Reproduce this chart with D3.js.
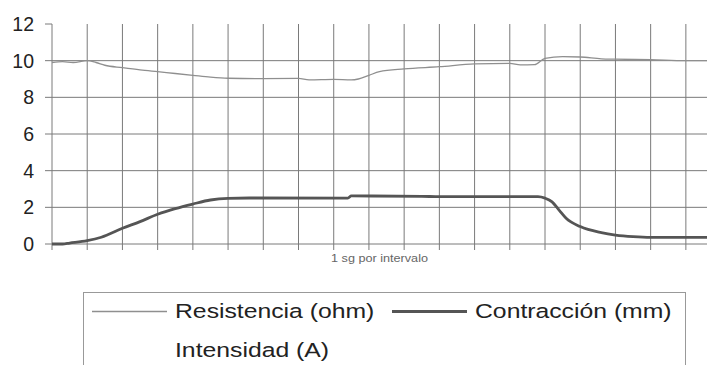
<!DOCTYPE html>
<html>
<head>
<meta charset="utf-8">
<script src="https://cdn.jsdelivr.net/npm/d3@7"></script>
<style>
  html, body { margin: 0; padding: 0; background: #fff; }
  svg { display: block; font-family: "Liberation Sans", Arial, sans-serif; }
</style>
</head>
<body>
<div id="chart"></div>
<script>
// time in seconds (one grid interval = 1 s)
const resistenciaT = [0, 0.3, 0.6, 1.0, 1.25, 1.5, 2.0, 2.5, 3.0, 3.5, 4.0, 4.5, 5.0, 6.0, 7.0, 7.3, 8.0, 8.5, 8.7, 9.0, 9.3, 10.0, 11.0, 12.0, 13.0, 13.3, 13.7, 14.0, 14.5, 15.0, 15.6, 16.0, 17.0, 18.0, 18.6]
const resistenciaV = [9.9, 9.95, 9.9, 10.0, 9.9, 9.75, 9.62, 9.5, 9.4, 9.3, 9.2, 9.1, 9.04, 9.02, 9.03, 8.95, 8.98, 8.95, 9.0, 9.2, 9.4, 9.55, 9.67, 9.82, 9.85, 9.77, 9.78, 10.13, 10.22, 10.2, 10.1, 10.08, 10.05, 10.0, 10.0]

const contraccionT = [0, 0.3, 0.5, 1.0, 1.4, 2.0, 2.5, 3.0, 3.5, 4.0, 4.5, 5.0, 5.6, 8.4, 8.5, 10.5, 11.0, 13.8, 14.0, 14.2, 14.4, 14.6, 15.0, 15.6, 16.0, 16.5, 17.0, 18.6]
const contraccionV = [0, 0, 0.05, 0.18, 0.37, 0.86, 1.22, 1.62, 1.93, 2.18, 2.4, 2.49, 2.51, 2.5, 2.62, 2.6, 2.58, 2.58, 2.5, 2.3, 1.85, 1.4, 0.95, 0.62, 0.49, 0.4, 0.36, 0.36]

const yTicks = [0, 2, 4, 6, 8, 10, 12]
const xTicks = d3.range(0, 19)
const xLabel = "1 sg por intervalo"
const legendNames = ["Resistencia (ohm)", "Contracción (mm)", "Intensidad (A)"]

const width = 707, height = 365
const margin = { top: 24, left: 52, bottom: 121 }

const x = d3.scaleLinear().domain([0, 18.6]).range([margin.left, width])
const y = d3.scaleLinear().domain([0, 12]).range([height - margin.bottom, margin.top])

const svg = d3.select("#chart").append("svg")
  .attr("width", width)
  .attr("height", height)

const gridColor = "#7a7a7a"

// horizontal grid (no line at the top value)
svg.append("g").selectAll("line")
  .data(yTicks.filter(d => d < 12))
  .enter().append("line")
  .attr("x1", margin.left - 7).attr("x2", width)
  .attr("y1", d => y(d)).attr("y2", d => y(d))
  .attr("stroke", gridColor).attr("stroke-width", 1)

// tick at 12
svg.append("line")
  .attr("x1", margin.left - 7).attr("x2", margin.left)
  .attr("y1", y(12)).attr("y2", y(12))
  .attr("stroke", gridColor)

// vertical grid, running a little below zero as ticks
svg.append("g").selectAll("line")
  .data(xTicks)
  .enter().append("line")
  .attr("x1", d => x(d)).attr("x2", d => x(d))
  .attr("y1", y(12)).attr("y2", y(0) + 6)
  .attr("stroke", gridColor).attr("stroke-width", 1)

// y labels
svg.append("g").selectAll("text")
  .data(yTicks)
  .enter().append("text")
  .attr("x", 34)
  .attr("y", d => y(d))
  .attr("dy", "0.36em")
  .attr("text-anchor", "end")
  .attr("font-size", 19.5)
  .attr("fill", "#222")
  .text(d => d)

svg.append("text")
  .attr("x", (x.range()[0] + x.range()[1]) / 2)
  .attr("y", y(0) + 18)
  .attr("text-anchor", "middle")
  .attr("font-size", 11.5)
  .attr("fill", "#666")
  .attr("transform", `translate(${(x.range()[0] + x.range()[1]) / 2},0) scale(1.1,1) translate(${-(x.range()[0] + x.range()[1]) / 2},0)`)
  .text(xLabel)

const line = d3.line()
  .x(d => x(d[0]))
  .y(d => y(d[1]))
  .curve(d3.curveMonotoneX)

svg.append("path")
  .datum(d3.zip(resistenciaT, resistenciaV))
  .attr("d", line)
  .attr("fill", "none")
  .attr("stroke", "#8f8f8f")
  .attr("stroke-width", 1.3)

svg.append("path")
  .datum(d3.zip(contraccionT, contraccionV))
  .attr("d", line)
  .attr("fill", "none")
  .attr("stroke", "#555")
  .attr("stroke-width", 2.8)

// legend
const legend = svg.append("g")
legend.append("rect")
  .attr("x", 83.5).attr("y", 292.5)
  .attr("width", 602).attr("height", 90)
  .attr("fill", "#fff")
  .attr("stroke", "#999")

const items = [
  { name: legendNames[0], lx: 92, tx: 175, ty: 318, stroke: "#8f8f8f", sw: 1.3 },
  { name: legendNames[1], lx: 392, tx: 475, ty: 318, stroke: "#555", sw: 2.8 },
  { name: legendNames[2], lx: null, tx: 175, ty: 357, stroke: null, sw: 0 }
]

items.forEach(it => {
  if (it.lx !== null) {
    legend.append("line")
      .attr("x1", it.lx).attr("x2", it.lx + 75)
      .attr("y1", it.ty - 6.5).attr("y2", it.ty - 6.5)
      .attr("stroke", it.stroke)
      .attr("stroke-width", it.sw)
  }
  legend.append("text")
    .attr("transform", `translate(${it.tx},${it.ty}) scale(1.27,1)`)
    .attr("font-size", 19.5)
    .attr("fill", "#222")
    .text(it.name)
})
</script>
</body>
</html>
